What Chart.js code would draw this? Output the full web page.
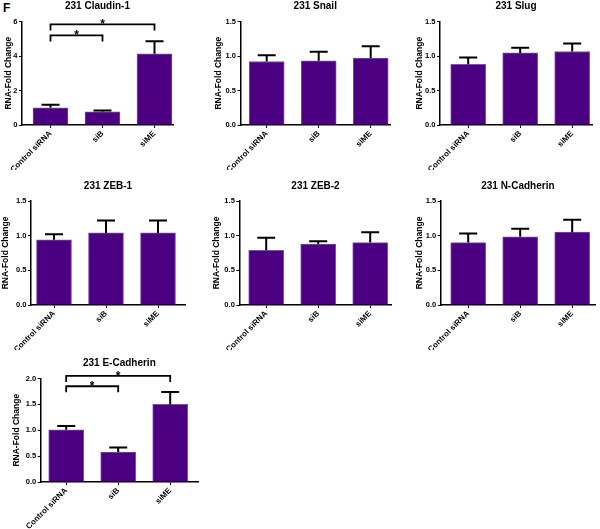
<!DOCTYPE html>
<html>
<head>
<meta charset="utf-8">
<script src="https://cdn.jsdelivr.net/npm/chart.js@4.4.0/dist/chart.umd.min.js"></script>
<style>
  body { margin: 0; background: #fff; }
  #wrap { position: relative; width: 600px; height: 529px; overflow: hidden; }
  #wrap canvas { position: absolute; }
  #panelLetter { position: absolute; left: 3px; top: 1px; font: bold 12px "Liberation Sans", Arial, sans-serif; }
</style>
</head>
<body>
<div id="wrap">
  <div id="panelLetter">F</div>
  <canvas id="claudin"></canvas>
  <canvas id="snail"></canvas>
  <canvas id="slug"></canvas>
  <canvas id="zeb1"></canvas>
  <canvas id="zeb2"></canvas>
  <canvas id="ncad"></canvas>
  <canvas id="ecad"></canvas>
</div>
<script>
// groups on the x axis
const groups = ["Control siRNA", "siB", "siME"];

// mean fold change and upper error (SEM) per group
const claudinMeans = [1.0, 0.77, 4.13];
const claudinErr = [0.18, 0.07, 0.72];
const snailMeans = [0.92, 0.93, 0.97];
const snailErr = [0.09, 0.13, 0.17];
const slugMeans = [0.88, 1.045, 1.065];
const slugErr = [0.10, 0.075, 0.115];
const zeb1Means = [0.94, 1.04, 1.04];
const zeb1Err = [0.08, 0.18, 0.18];
const zeb2Means = [0.79, 0.88, 0.90];
const zeb2Err = [0.18, 0.04, 0.15];
const ncadMeans = [0.90, 0.985, 1.05];
const ncadErr = [0.13, 0.115, 0.18];
const ecadMeans = [1.01, 0.58, 1.50];
const ecadErr = [0.07, 0.085, 0.24];

// y tick labels
const claudinTicks = [0, 2, 4, 6];
const foldTicks = [0, 0.5, 1.0, 1.5];
const ecadTicks = [0, 0.5, 1.0, 1.5, 2.0];

// significance brackets (group indexes, bracket level in fold change)
const claudinSig = [
  { from: 0, to: 1, level: 5.19, label: "*" },
  { from: 0, to: 2, level: 5.83, label: "*" }
];
const ecadSig = [
  { from: 0, to: 1, level: 1.85, label: "*" },
  { from: 0, to: 2, level: 2.05, label: "*" }
];

Chart.defaults.font.family = '"Liberation Sans", Arial, sans-serif';
Chart.defaults.color = "#000";

const panels = [
  { id: "claudin", title: "231 Claudin-1", means: claudinMeans, err: claudinErr, ticks: claudinTicks, digits: 0, sig: claudinSig,
    box: { left: 0, top: 0, w: 200, h: 170, axisX: 22, firstBar: 50.5, xEnd: 173, plotTop: 21.5, plotBottom: 125, yTitleX: 8.5 } },
  { id: "snail", title: "231 Snail", means: snailMeans, err: snailErr, ticks: foldTicks, digits: 1, sig: [],
    box: { left: 200, top: 0, w: 200, h: 170, axisX: 240.5, firstBar: 266.7, xEnd: 390, plotTop: 21.5, plotBottom: 125, yTitleX: 218.5 } },
  { id: "slug", title: "231 Slug", means: slugMeans, err: slugErr, ticks: foldTicks, digits: 1, sig: [],
    box: { left: 400, top: 0, w: 200, h: 170, axisX: 440, firstBar: 468.2, xEnd: 592, plotTop: 21.5, plotBottom: 125, yTitleX: 420 } },
  { id: "zeb1", title: "231 ZEB-1", means: zeb1Means, err: zeb1Err, ticks: foldTicks, digits: 1, sig: [],
    box: { left: 0, top: 170, w: 200, h: 180, axisX: 31, firstBar: 54, xEnd: 185, plotTop: 201, plotBottom: 305, yTitleX: 6 } },
  { id: "zeb2", title: "231 ZEB-2", means: zeb2Means, err: zeb2Err, ticks: foldTicks, digits: 1, sig: [],
    box: { left: 200, top: 170, w: 200, h: 180, axisX: 239.3, firstBar: 266.2, xEnd: 391.7, plotTop: 201, plotBottom: 305, yTitleX: 217 } },
  { id: "ncad", title: "231 N-Cadherin", means: ncadMeans, err: ncadErr, ticks: foldTicks, digits: 1, sig: [],
    box: { left: 400, top: 170, w: 200, h: 180, axisX: 440.7, firstBar: 468.2, xEnd: 595, plotTop: 201, plotBottom: 305, yTitleX: 420 } },
  { id: "ecad", title: "231 E-Cadherin", means: ecadMeans, err: ecadErr, ticks: ecadTicks, digits: 1, sig: ecadSig,
    box: { left: 0, top: 340, w: 200, h: 189, axisX: 40.7, firstBar: 66.2, xEnd: 198, plotTop: 378.5, plotBottom: 482, yTitleX: 16.7 } }
];

function makePanel(p) {
  const b = p.box;
  const canvas = document.getElementById(p.id);
  canvas.width = b.w;
  canvas.height = b.h;
  canvas.style.left = b.left + "px";
  canvas.style.top = b.top + "px";

  const step = 52; // pixels between bar centres
  const titleSize = 8.5;
  const padLeft = Math.max(b.yTitleX - b.left - titleSize * 1.2 / 2, 0);
  const yWidth = b.axisX - b.left - padLeft;
  const xHeight = b.top + b.h - b.plotBottom;

  // error bars drawn above each bar, plus the significance brackets
  const errorBars = {
    id: "errorBars",
    afterDatasetsDraw(chart) {
      const { ctx, scales: { x, y } } = chart;
      ctx.save();
      ctx.strokeStyle = "#000";
      ctx.lineWidth = 2;
      p.means.forEach((m, i) => {
        const cx = x.getPixelForValue(i);
        const y0 = y.getPixelForValue(m);
        const y1 = y.getPixelForValue(m + p.err[i]);
        ctx.beginPath();
        ctx.moveTo(cx, y0);
        ctx.lineTo(cx, y1);
        ctx.moveTo(cx - 9, y1);
        ctx.lineTo(cx + 9, y1);
        ctx.stroke();
      });
      ctx.lineWidth = 1.8;
      ctx.fillStyle = "#000";
      ctx.font = 'bold 12px "Liberation Sans", Arial, sans-serif';
      ctx.textAlign = "center";
      ctx.textBaseline = "alphabetic";
      p.sig.forEach(s => {
        const xa = x.getPixelForValue(s.from);
        const xb = x.getPixelForValue(s.to);
        const yl = y.getPixelForValue(s.level);
        ctx.beginPath();
        ctx.moveTo(xa, yl + 6);
        ctx.lineTo(xa, yl);
        ctx.lineTo(xb, yl);
        ctx.lineTo(xb, yl + 6);
        ctx.stroke();
        ctx.fillText(s.label, (xa + xb) / 2, yl + 4);
      });
      ctx.restore();
    }
  };

  const panelTitle = {
    id: "panelTitle",
    afterDraw(chart) {
      const { ctx, chartArea } = chart;
      ctx.save();
      ctx.fillStyle = "#000";
      ctx.font = 'bold 10px "Liberation Sans", Arial, sans-serif';
      ctx.textAlign = "center";
      ctx.textBaseline = "middle";
      ctx.fillText(p.title, (chartArea.left + chartArea.right) / 2, chartArea.top - 15);
      ctx.restore();
    }
  };

  new Chart(canvas, {
    type: "bar",
    data: {
      datasets: [{
        data: p.means.map((v, i) => ({ x: i, y: v })),
        backgroundColor: "#4B0082",
        borderColor: "#7E4DB5",
        borderWidth: 1,
        barThickness: 35
      }]
    },
    options: {
      responsive: false,
      animation: false,
      devicePixelRatio: 1,
      layout: {
        padding: { left: padLeft, top: b.plotTop - b.top, right: b.left + b.w - b.xEnd, bottom: 0 }
      },
      plugins: {
        legend: { display: false },
        tooltip: { enabled: false }
      },
      scales: {
        x: {
          type: "linear",
          offset: false,
          min: (b.axisX - b.firstBar) / step,
          max: (b.xEnd - b.firstBar) / step,
          afterBuildTicks: s => { s.ticks = groups.map((g, i) => ({ value: i })); },
          afterFit: s => { s.height = xHeight; },
          grid: { offset: false, drawOnChartArea: false, drawTicks: true, tickLength: 3, color: "#000", lineWidth: 1 },
          border: { color: "#000", width: 1.5 },
          ticks: {
            callback: v => groups[v],
            minRotation: 45,
            maxRotation: 45,
            autoSkip: false,
            padding: 1,
            color: "#000",
            font: { size: 8, weight: "bold" }
          }
        },
        y: {
          min: 0,
          max: p.ticks[p.ticks.length - 1],
          afterBuildTicks: s => { s.ticks = p.ticks.map(v => ({ value: v })); },
          afterFit: s => { s.width = yWidth; },
          grid: { drawOnChartArea: false, drawTicks: true, tickLength: 3, color: "#000", lineWidth: 1 },
          border: { color: "#000", width: 1.5 },
          ticks: {
            callback: v => v.toFixed(p.digits),
            padding: 1.5,
            color: "#000",
            font: { size: 7.5, weight: "bold" }
          },
          title: {
            display: true,
            text: "RNA-Fold Change",
            color: "#000",
            padding: 0,
            font: { size: titleSize, weight: "bold" }
          }
        }
      }
    },
    plugins: [errorBars, panelTitle]
  });
}

panels.forEach(makePanel);
</script>
</body>
</html>
